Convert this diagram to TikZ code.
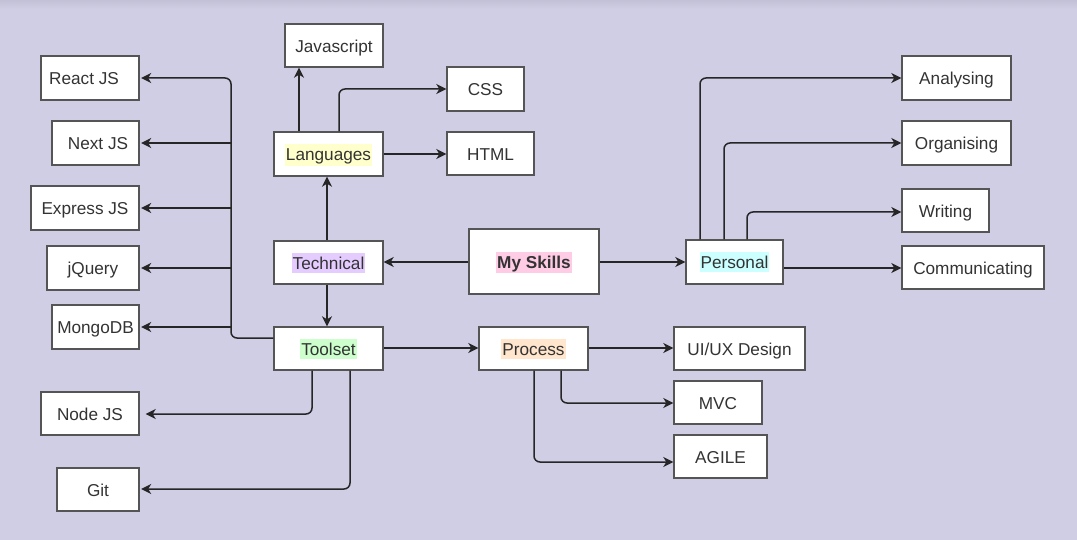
\documentclass[tikz,border=0pt]{standalone}
\usepackage{fontspec}
\setmainfont{Liberation Sans}
\usetikzlibrary{arrows.meta}
\definecolor{bg}{HTML}{D0CEE4}
\definecolor{bgtop}{HTML}{C3C1D6}
\definecolor{boxline}{HTML}{555555}
\definecolor{conn}{HTML}{262626}
\definecolor{txt}{HTML}{333333}
\definecolor{hlyellow}{HTML}{FFFFCC}
\definecolor{hlpurple}{HTML}{E5CCFF}
\definecolor{hlpink}{HTML}{FFCCE6}
\definecolor{hlgreen}{HTML}{CCFFCC}
\definecolor{hlpeach}{HTML}{FFE6CC}
\definecolor{hlcyan}{HTML}{CCFFFF}
\newcommand{\hl}[2]{{\setlength{\fboxsep}{1pt}\colorbox{#1}{\rule[-2.5pt]{0pt}{18pt}#2}}}
\tikzset{
  skillbox/.style={draw=boxline, line width=1.4pt, fill=white, rectangle,
    inner sep=0pt, text=txt, text height=15pt, text depth=1pt,
    font=\fontsize{17.2}{20}\selectfont},
  link/.style={draw=conn, line width=1.5pt, rounded corners=6pt,
    -{Stealth[length=10pt,width=10pt,inset=3pt]}},
}
\newcommand{\bx}[6]{% name, x1, y1, x2, y2, text
  \node[skillbox, minimum width={#4-#2}, minimum height={#5-#3}] (#1) at ({(#2+#4)/2},{(#3+#5)/2}) {#6};}
\begin{document}
\begin{tikzpicture}[x=1pt,y=-1pt]
\useasboundingbox (0,0) rectangle (1077,540);
\fill[bg] (0,0) rectangle (1077,540);
\shade[top color=bgtop, bottom color=bg] (0,0) rectangle (1077,9);
% boxes
\bx{js}{285}{24}{383}{67}{Javascript}
\bx{react}{41}{56}{139}{100}{React JS\kern12pt}
\bx{next}{52}{121}{139}{165}{\kern5pt Next JS}
\bx{express}{31}{186}{139}{230}{Express JS}
\bx{jquery}{47}{246}{139}{290}{jQuery}
\bx{mongo}{52}{305}{139}{349}{MongoDB}
\bx{node}{41}{392}{139}{435}{Node JS}
\bx{git}{57}{468}{139}{511}{Git}
\bx{lang}{274}{132}{383}{176}{\hl{hlyellow}{Languages}}
\bx{css}{447}{67}{524}{111}{CSS}
\bx{html}{447}{132}{534}{175}{HTML}
\bx{tech}{274}{241}{383}{284}{\hl{hlpurple}{Technical}}
\bx{skills}{469}{229}{599}{294}{\hl{hlpink}{\textbf{My Skills}}}
\bx{tool}{274}{327}{383}{370}{\hl{hlgreen}{Toolset}}
\bx{proc}{479}{327}{588}{370}{\hl{hlpeach}{Process}}
\bx{uiux}{674}{327}{805}{370}{UI/UX Design}
\bx{mvc}{674}{381}{762}{424}{MVC}
\bx{agile}{674}{435}{767}{478}{AGILE}
\bx{pers}{686}{240}{783}{284}{\hl{hlcyan}{Personal}}
\bx{anal}{902}{56}{1011}{100}{Analysing}
\bx{org}{902}{121}{1011}{165}{Organising}
\bx{writ}{902}{189}{989}{232}{Writing}
\bx{comm}{902}{246}{1044}{289}{Communicating}
% connectors
\draw[link] (lang.north -| 299,0) -- (js.south -| 299,0);
\draw[link] (lang.north -| 339,0) -- (339,89) -- (css.west |- 0,89);
\draw[link] (lang.east |- 0,154) -- (html.west |- 0,154);
\draw[link] (tech.north -| 327,0) -- (lang.south -| 327,0);
\draw[link] (tech.south -| 327,0) -- (tool.north -| 327,0);
\draw[link] (skills.west |- 0,262) -- (tech.east |- 0,262);
\draw[link] (skills.east |- 0,262) -- (pers.west |- 0,262);
\draw[link] (tool.west |- 0,338) -- (231,338) -- (231,78) -- ([xshift=1.5pt]react.east |- 0,78);
\draw[link] (231,143) -- ([xshift=1.5pt]next.east |- 0,143);
\draw[link] (231,208) -- ([xshift=1.5pt]express.east |- 0,208);
\draw[link] (231,268) -- ([xshift=1.5pt]jquery.east |- 0,268);
\draw[link] (231,327) -- ([xshift=1.5pt]mongo.east |- 0,327);
\draw[link] (tool.south -| 312,0) -- (312,414) -- ([xshift=6pt]node.east |- 0,414);
\draw[link] (tool.south -| 350,0) -- (350,489) -- ([xshift=1.5pt]git.east |- 0,489);
\draw[link] (tool.east |- 0,348) -- (proc.west |- 0,348);
\draw[link] (proc.east |- 0,348) -- (uiux.west |- 0,348);
\draw[link] (proc.south -| 561,0) -- (561,403) -- (mvc.west |- 0,403);
\draw[link] (proc.south -| 534,0) -- (534,462) -- (agile.west |- 0,462);
\draw[link] (pers.north -| 700,0) -- (700,78) -- (anal.west |- 0,78);
\draw[link] (pers.north -| 724,0) -- (724,143) -- (org.west |- 0,143);
\draw[link] (pers.north -| 747,0) -- (747,212) -- (writ.west |- 0,212);
\draw[link] (pers.east |- 0,268) -- (comm.west |- 0,268);
\end{tikzpicture}
\end{document}
